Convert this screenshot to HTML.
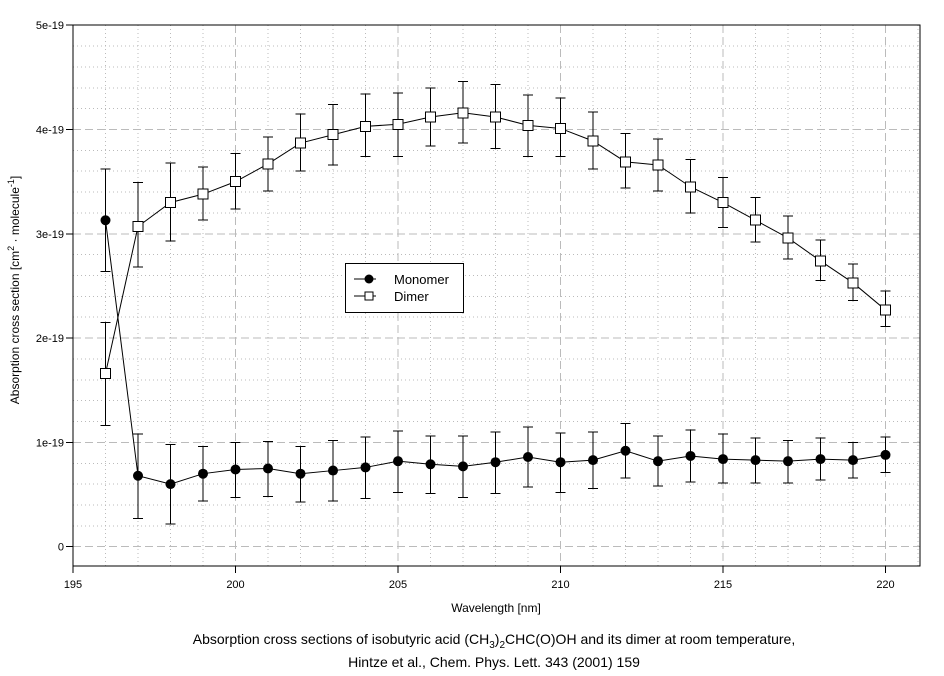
<!DOCTYPE html>
<html><head><meta charset="utf-8"><style>
html,body{margin:0;padding:0;background:#fff;}
svg{display:block;font-family:"Liberation Sans",Arial,sans-serif;}
line,rect{shape-rendering:crispEdges;}
</style></head><body>
<svg id="s" width="944" height="676" xmlns="http://www.w3.org/2000/svg"></svg>
<script>
const s=document.getElementById('s');
const X=w=>73+(w-195)*32.5, Y=v=>546.7-v*104.3;
let h='';
for(let w=196;w<=221;w++){if(w%5==0)continue;const x=X(w);h+=`<line x1="${x}" y1="25" x2="${x}" y2="566" stroke="#bbb" stroke-dasharray="1,3"/>`;}
for(let i=-0;i<=25;i++){const v=i*0.2;if(i%5==0)continue;const y=Y(v);h+=`<line x1="73" y1="${y}" x2="920" y2="${y}" stroke="#bbb" stroke-dasharray="1,3"/>`;}
for(let w=200;w<=220;w+=5){const x=X(w);h+=`<line x1="${x}" y1="25" x2="${x}" y2="566" stroke="#bbb" stroke-dasharray="8,4"/>`;}
for(let v=0;v<=4;v++){const y=Y(v);h+=`<line x1="73" y1="${y}" x2="920" y2="${y}" stroke="#bbb" stroke-dasharray="8,4"/>`;}
h+=`<rect x="73" y="25" width="847" height="541" fill="none" stroke="#000" stroke-width="1"/>`;
const yl=['0','1e-19','2e-19','3e-19','4e-19','5e-19'];
for(let v=0;v<=5;v++){const y=Y(v);h+=`<line x1="66" y1="${y}" x2="73" y2="${y}" stroke="#000"/><text x="64" y="${y+4}" font-size="11" text-anchor="end">${yl[v]}</text>`;}
for(let w=195;w<=220;w+=5){const x=X(w);h+=`<line x1="${x}" y1="566" x2="${x}" y2="573" stroke="#000"/><text x="${x}" y="588" font-size="11" text-anchor="middle">${w}</text>`;}
const mon=[[3.13,2.64,3.62],[0.68,0.27,1.08],[0.60,0.22,0.98],[0.70,0.44,0.96],[0.74,0.47,1.0],[0.75,0.48,1.01],[0.70,0.43,0.96],[0.73,0.44,1.02],[0.76,0.46,1.05],[0.82,0.52,1.11],[0.79,0.51,1.06],[0.77,0.47,1.06],[0.81,0.51,1.10],[0.86,0.57,1.15],[0.81,0.52,1.09],[0.83,0.56,1.10],[0.92,0.66,1.18],[0.82,0.58,1.06],[0.87,0.62,1.12],[0.84,0.61,1.08],[0.83,0.61,1.04],[0.82,0.61,1.02],[0.84,0.64,1.04],[0.83,0.66,1.00],[0.88,0.71,1.05]];
const dim=[[1.66,1.16,2.15],[3.07,2.68,3.49],[3.30,2.93,3.68],[3.38,3.13,3.64],[3.50,3.24,3.77],[3.67,3.41,3.93],[3.87,3.60,4.15],[3.95,3.66,4.24],[4.03,3.74,4.34],[4.05,3.74,4.35],[4.12,3.84,4.40],[4.16,3.87,4.46],[4.12,3.82,4.43],[4.04,3.74,4.33],[4.01,3.74,4.30],[3.89,3.62,4.17],[3.69,3.44,3.96],[3.66,3.41,3.91],[3.45,3.20,3.71],[3.30,3.06,3.54],[3.13,2.92,3.35],[2.96,2.76,3.17],[2.74,2.55,2.94],[2.53,2.36,2.71],[2.27,2.11,2.45]];
function series(d,sq){let p='',e='',m='';d.forEach((r,i)=>{const x=X(196+i),y=Y(r[0]);p+=(i?'L':'M')+x+','+y;
e+=`<line x1="${x}" y1="${Y(r[1])}" x2="${x}" y2="${Y(r[2])}" stroke="#000"/><line x1="${x-5}" y1="${Y(r[1])}" x2="${x+5}" y2="${Y(r[1])}" stroke="#000"/><line x1="${x-5}" y1="${Y(r[2])}" x2="${x+5}" y2="${Y(r[2])}" stroke="#000"/>`;
m+=sq?`<rect x="${x-5}" y="${y-5}" width="10" height="10" fill="#fff" stroke="#000"/>`:`<circle cx="${x}" cy="${y}" r="5" fill="#000"/>`;});
return e+`<path d="${p}" fill="none" stroke="#000"/>`+m;}
h+=series(mon,false)+series(dim,true);
h+=`<rect x="345.5" y="263.5" width="118" height="49" fill="#fff" stroke="#000"/>
<line x1="354" y1="279" x2="376" y2="279" stroke="#000"/><circle cx="369" cy="279" r="4.5"/>
<line x1="354" y1="296" x2="376" y2="296" stroke="#000"/><rect x="365" y="292" width="8" height="8" fill="#fff" stroke="#000"/>
<text x="394" y="284" font-size="13">Monomer</text><text x="394" y="301" font-size="13">Dimer</text>`;
h+=`<text x="496" y="612" font-size="12" text-anchor="middle">Wavelength [nm]</text>`;
h+=`<text transform="translate(19,290) rotate(-90)" font-size="12" text-anchor="middle">Absorption cross section [cm<tspan dy="-5" font-size="9">2</tspan><tspan dy="5"> · molecule</tspan><tspan dy="-5" font-size="9">-1</tspan><tspan dy="5">]</tspan></text>`;
h+=`<text x="494" y="644" font-size="14" text-anchor="middle">Absorption cross sections of isobutyric acid (CH<tspan dy="4" font-size="10">3</tspan><tspan dy="-4">)</tspan><tspan dy="4" font-size="10">2</tspan><tspan dy="-4">CHC(O)OH and its dimer at room temperature,</tspan></text>`;
h+=`<text x="494" y="667" font-size="14" text-anchor="middle">Hintze et al., Chem. Phys. Lett. 343 (2001) 159</text>`;
s.innerHTML=h;
</script>
</body></html>
